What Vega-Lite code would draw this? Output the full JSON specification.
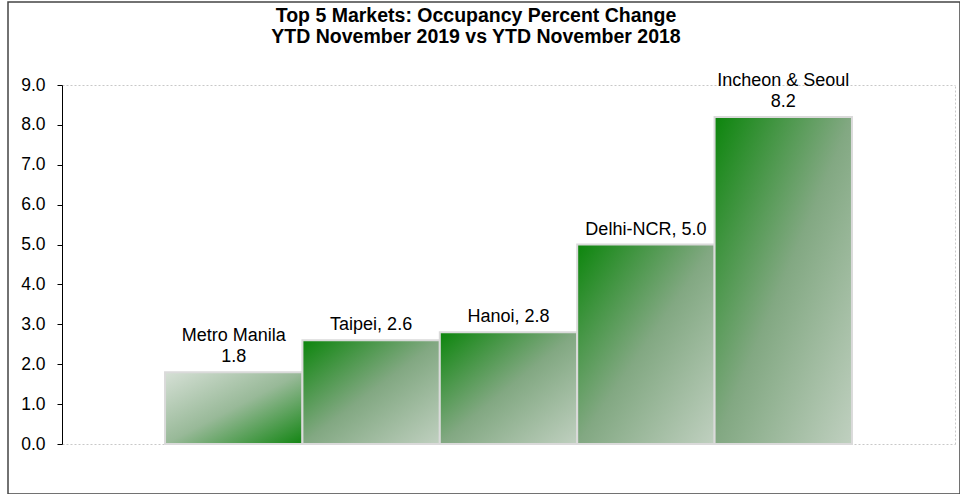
{
  "$schema": "https://vega.github.io/schema/vega-lite/v6.json",
  "autosize": "none",
  "width": 952,
  "height": 492,
  "padding": {"left": 8, "top": 2, "right": 0, "bottom": 0},
  "background": "white",
  "title": {
    "text": ["Top 5 Markets: Occupancy Percent Change", "YTD November 2019 vs YTD November 2018"],
    "font": "Liberation Sans",
    "fontSize": 19.5,
    "fontWeight": "bold",
    "color": "black",
    "anchor": "middle",
    "offset": -45,
    "dx": -8,
    "lineHeight": 21
  },
  "config": {
    "view": {"stroke": "#444444", "strokeWidth": 1.5},
    "font": "Liberation Sans"
  },
  "data": {
    "values": [
      {"market": "Metro Manila", "change": 1.8, "line1": "Metro Manila", "line2": "1.8"},
      {"market": "Taipei", "change": 2.6, "line1": "", "line2": "Taipei, 2.6"},
      {"market": "Hanoi", "change": 2.8, "line1": "", "line2": "Hanoi, 2.8"},
      {"market": "Delhi-NCR", "change": 5.0, "line1": "", "line2": "Delhi-NCR, 5.0"},
      {"market": "Incheon & Seoul", "change": 8.2, "line1": "Incheon & Seoul", "line2": "8.2"}
    ]
  },
  "layer": [
    {
      "mark": {"type": "bar", "stroke": "#dadada", "strokeWidth": 2},
      "encoding": {
        "x": {
          "field": "market",
          "type": "nominal",
          "scale": {
            "domain": ["Metro Manila", "Taipei", "Hanoi", "Delhi-NCR", "Incheon & Seoul"],
            "range": [54, 947],
            "paddingInner": 0,
            "paddingOuter": 0.75
          },
          "axis": {
            "orient": "bottom",
            "offset": -50,
            "labels": false,
            "ticks": false,
            "title": null,
            "grid": false,
            "domainColor": "#c8c8c8",
            "domainDash": [2, 2],
            "domainWidth": 1
          }
        },
        "y": {
          "field": "change",
          "type": "quantitative",
          "scale": {"domain": [0, 9], "range": [442, 83], "nice": false},
          "axis": {
            "orient": "left",
            "offset": -54,
            "values": [0, 1, 2, 3, 4, 5, 6, 7, 8, 9],
            "format": ".1f",
            "title": null,
            "grid": false,
            "domainColor": "black",
            "domainWidth": 1,
            "tickColor": "black",
            "tickSize": 5,
            "labelFont": "Liberation Sans",
            "labelFontSize": 17.5,
            "labelColor": "black",
            "labelPadding": 12
          }
        },
        "fill": {
          "condition": {
            "test": "datum.market === 'Metro Manila'",
            "value": {
              "gradient": "linear",
              "x1": 0, "y1": 0, "x2": 1, "y2": 1,
              "stops": [
                {"offset": 0, "color": "#d6e0d6"},
                {"offset": 0.5, "color": "#98b998"},
                {"offset": 1, "color": "#128512"}
              ]
            }
          },
          "value": {
            "gradient": "linear",
            "x1": 0, "y1": 0, "x2": 1, "y2": 1,
            "stops": [
              {"offset": 0, "color": "#0c850c"},
              {"offset": 0.5, "color": "#82a882"},
              {"offset": 1, "color": "#c0d0c0"}
            ]
          }
        }
      }
    },
    {
      "mark": {
        "type": "text",
        "font": "Liberation Sans",
        "fontSize": 18,
        "baseline": "alphabetic",
        "dy": -31,
        "color": "black"
      },
      "encoding": {
        "x": {"field": "market", "type": "nominal", "axis": null},
        "y": {"field": "change", "type": "quantitative", "axis": null},
        "text": {"field": "line1"}
      }
    },
    {
      "mark": {
        "type": "text",
        "font": "Liberation Sans",
        "fontSize": 18,
        "baseline": "alphabetic",
        "dy": -10,
        "color": "black"
      },
      "encoding": {
        "x": {
          "field": "market",
          "type": "nominal",
          "axis": {
            "orient": "top",
            "offset": -83,
            "labels": false,
            "ticks": false,
            "title": null,
            "grid": false,
            "domainColor": "#c8c8c8",
            "domainDash": [2, 2],
            "domainWidth": 1
          }
        },
        "y": {
          "field": "change",
          "type": "quantitative",
          "axis": {
            "orient": "right",
            "offset": -5,
            "labels": false,
            "ticks": false,
            "title": null,
            "grid": false,
            "domainColor": "#c8c8c8",
            "domainDash": [2, 2],
            "domainWidth": 1
          }
        },
        "text": {"field": "line2"}
      }
    }
  ],
  "resolve": {"axis": {"x": "independent", "y": "independent"}}
}
